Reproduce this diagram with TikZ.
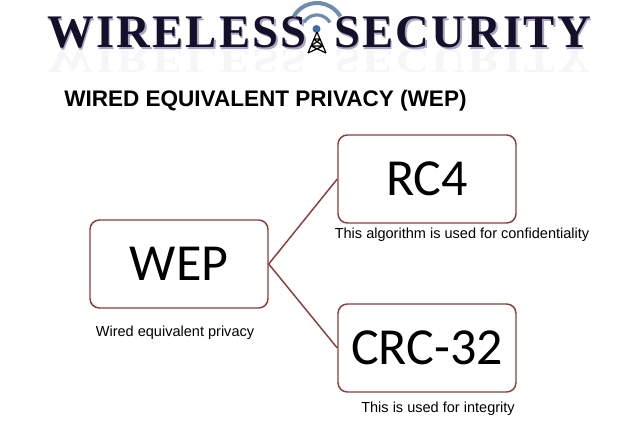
\documentclass[tikz,border=0pt]{standalone}
\usepackage{fontspec}
\setmainfont{Liberation Sans}
\newfontfamily\boxfont{Carlito}
\newfontfamily\headfont[LetterSpace=4.8]{Liberation Serif}
\usepackage{xcolor}
\usetikzlibrary{arrows.meta, calc}
\definecolor{boxred}{RGB}{140,62,60}
\definecolor{headnavy}{RGB}{20,16,44}
\definecolor{headshade}{RGB}{175,165,195}
\definecolor{waveblue}{RGB}{110,140,175}
\definecolor{dotblue}{RGB}{60,105,170}
\tikzset{
  wepbox/.style={draw=boxred, fill=white, rounded corners=7pt, line width=1.1pt, minimum width=133.5pt, minimum height=66pt, inner sep=0pt, font=\boxfont\fontsize{39}{39}\selectfont, text=black},
  joinline/.style={draw=boxred, line width=1.1pt},
  notetext/.style={font=\fontsize{10.9}{12}\selectfont, text=black, inner sep=0pt},
  headword/.style={font=\headfont\bfseries\fontsize{35}{35}\selectfont, inner sep=0pt, anchor=base west},
}
\begin{document}
\begin{tikzpicture}[x=0.75pt, y=-0.75pt]
\useasboundingbox (0,0) rectangle (638,435);
% header
\begin{scope}[opacity=0.06]
  \node[headword, headshade!60!black, yscale=-0.75, transform shape] (wirelessflip) at (47,50) {WIRELESS};
  \node[headword, headshade!60!black, yscale=-0.75, transform shape] (securityflip) at (334,50) {SECURITY};
\end{scope}
\node[headword, headshade] (wirelessback) at (48.5,49.5) {WIRELESS};
\node[headword, headshade] (securityback) at (335.5,49.5) {SECURITY};
\node[headword, headnavy] (wireless) at (47,48) {WIRELESS};
\node[headword, headnavy] (security) at (334,48) {SECURITY};
% antenna
\draw[waveblue, line width=3pt] (293.6,16.5) arc (-150:-30:27);
\draw[waveblue, line width=2.4pt] (304,22.5) arc (-150:-30:15);
\fill[dotblue] (316.5,29) circle (4);
\draw[black, line width=0.9pt] (317,32) -- (308,53) (317,32) -- (326,53) (313.5,39) -- (320.5,39) (320.5,39) -- (311,46) (313.5,39) -- (323,46) (311,46) -- (323,46) (311,46) -- (326,53) (323,46) -- (308,53);
% title
\node[font=\bfseries\fontsize{16.9}{18}\selectfont, anchor=west, inner sep=0pt] (title) at (64,101) {WIRED EQUIVALENT PRIVACY (WEP)};
% boxes
\node[wepbox] (wep) at (179,264) {WEP};
\node[wepbox] (rcfour) at (427,179) {RC4};
\node[wepbox] (crc) at (427,348) {CRC-32};
\draw[joinline] (wep.east) -- (rcfour.west);
\draw[joinline] (wep.east) -- (crc.west);
% notes
\node[notetext] (wepnote) at (175,332.5) {Wired equivalent privacy};
\node[notetext] (rcnote) at (462,235) {This algorithm is used for confidentiality};
\node[notetext] (crcnote) at (438,409) {This is used for integrity};
\end{tikzpicture}
\end{document}
